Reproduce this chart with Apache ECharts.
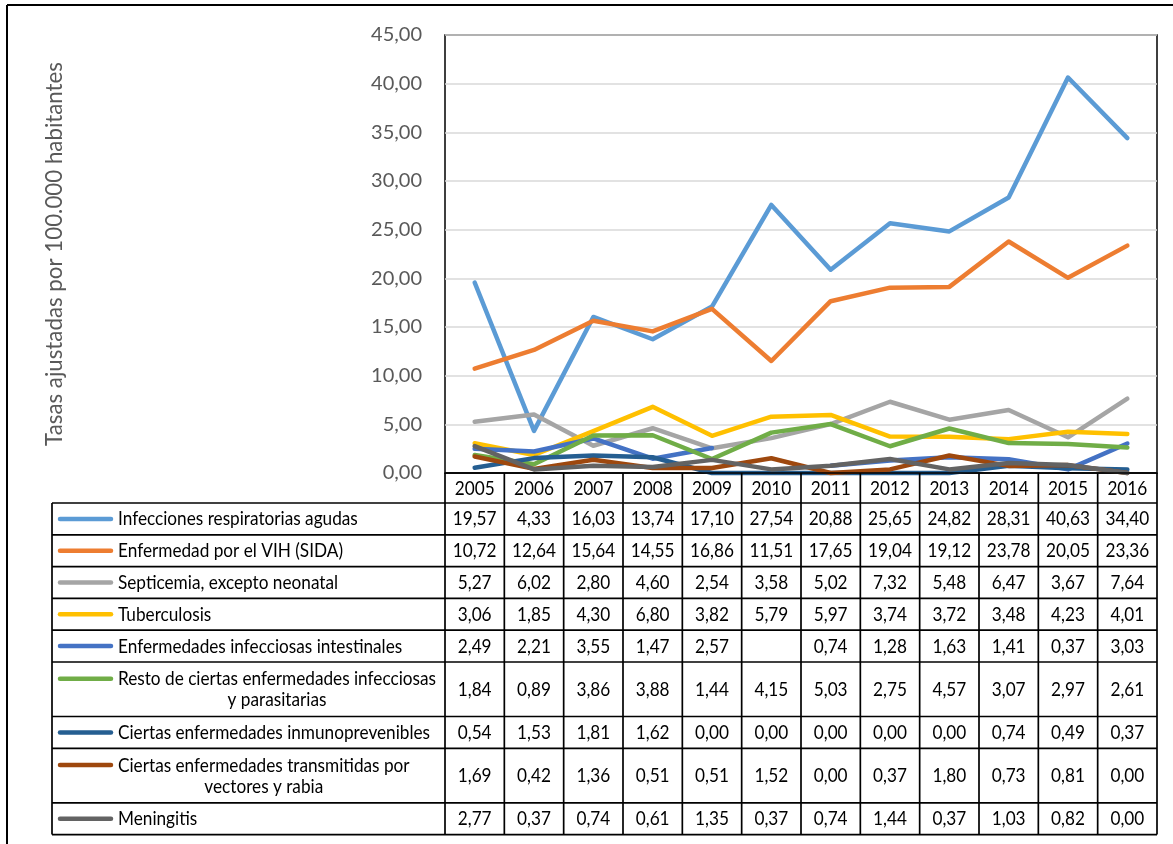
<!DOCTYPE html>
<html>
<head>
<meta charset="utf-8">
<title>Tasas ajustadas de mortalidad por enfermedades transmisibles</title>
<script src="https://cdn.jsdelivr.net/npm/echarts@6/dist/echarts.min.js"></script>
<style>
  html, body { margin: 0; padding: 0; background: #ffffff; }
  #chart { width: 1173px; height: 844px; }
</style>
</head>
<body>
<div id="chart"></div>
<script>
// ---- data ----
const years = ['2005', '2006', '2007', '2008', '2009', '2010', '2011', '2012', '2013', '2014', '2015', '2016'];

const respiratorias   = [19.57, 4.33, 16.03, 13.74, 17.10, 27.54, 20.88, 25.65, 24.82, 28.31, 40.63, 34.40];
const vih             = [10.72, 12.64, 15.64, 14.55, 16.86, 11.51, 17.65, 19.04, 19.12, 23.78, 20.05, 23.36];
const septicemia      = [5.27, 6.02, 2.80, 4.60, 2.54, 3.58, 5.02, 7.32, 5.48, 6.47, 3.67, 7.64];
const tuberculosis    = [3.06, 1.85, 4.30, 6.80, 3.82, 5.79, 5.97, 3.74, 3.72, 3.48, 4.23, 4.01];
const intestinales    = [2.49, 2.21, 3.55, 1.47, 2.57, null, 0.74, 1.28, 1.63, 1.41, 0.37, 3.03];
const restoInfecc     = [1.84, 0.89, 3.86, 3.88, 1.44, 4.15, 5.03, 2.75, 4.57, 3.07, 2.97, 2.61];
const inmunoprev      = [0.54, 1.53, 1.81, 1.62, 0.00, 0.00, 0.00, 0.00, 0.00, 0.74, 0.49, 0.37];
const vectores        = [1.69, 0.42, 1.36, 0.51, 0.51, 1.52, 0.00, 0.37, 1.80, 0.73, 0.81, 0.00];
const meningitis      = [2.77, 0.37, 0.74, 0.61, 1.35, 0.37, 0.74, 1.44, 0.37, 1.03, 0.82, 0.00];

const seriesNames = [
  'Infecciones respiratorias agudas',
  'Enfermedad por el VIH (SIDA)',
  'Septicemia, excepto neonatal',
  'Tuberculosis',
  'Enfermedades infecciosas intestinales',
  'Resto de ciertas enfermedades infecciosas\ny parasitarias',
  'Ciertas enfermedades inmunoprevenibles',
  'Ciertas enfermedades transmitidas por\nvectores y rabia',
  'Meningitis'
];
const seriesValues = [respiratorias, vih, septicemia, tuberculosis, intestinales,
                      restoInfecc, inmunoprev, vectores, meningitis];

const yTicks = { min: 0, max: 45, step: 5 };
const yAxisTitle = 'Tasas ajustadas por 100.000 habitantes';

// ---- look ----
const palette = ['#5B9BD5', '#ED7D31', '#A5A5A5', '#FFC000', '#4472C4',
                 '#70AD47', '#255E91', '#9E480E', '#636363'];
const TABLE_FONT_FAMILY = 'Lato, sans-serif';
const TABLE_FONT_SIZE = 20;
const TABLE_FONT = TABLE_FONT_SIZE + 'px ' + TABLE_FONT_FAMILY;
const TABLE_SCALE_X = 0.86;           // condensed look for the table text
const AXIS_FONT_FAMILY = 'Lato, sans-serif';

// plot area
const GRID = { left: 445, top: 35, right: 16, bottom: 371 };
const W = 1173, H = 844;
const plotBottom = H - GRID.bottom;

// table layout
const TABLE_LEFT = 52;
const KEY_X1 = 58, KEY_X2 = 113, LABEL_X = 118;
const HEADER_BOTTOM = 503;
const ROW_SINGLE = 31.8, ROW_DOUBLE = 54.5;
const LINE_GAP = 21;

const fmt = v => (v == null ? '' : v.toFixed(2).replace('.', ','));

const chart = echarts.init(document.getElementById('chart'), null, { renderer: 'canvas' });

chart.setOption({
  animation: false,
  backgroundColor: '#ffffff',
  grid: {
    left: GRID.left, top: GRID.top, right: GRID.right, bottom: GRID.bottom,
    show: true, borderColor: '#000000', borderWidth: 1.5, backgroundColor: 'transparent'
  },
  xAxis: {
    type: 'category',
    data: years,
    boundaryGap: true,
    axisLine: { show: true, lineStyle: { color: '#000000', width: 1.5 } },
    axisTick: { show: false },
    axisLabel: { show: false },   // years are written in the table header below
    splitLine: { show: false }
  },
  yAxis: {
    type: 'value',
    min: yTicks.min, max: yTicks.max, interval: yTicks.step,
    name: yAxisTitle,
    nameLocation: 'middle',
    nameGap: 379,
    nameTextStyle: { color: '#595959', fontFamily: AXIS_FONT_FAMILY, fontSize: 22.3 },
    axisLine: { show: false },
    axisTick: { show: false },
    axisLabel: {
      color: '#595959', fontFamily: AXIS_FONT_FAMILY, fontSize: 20, margin: 23,
      formatter: v => fmt(v)
    },
    splitLine: { show: true, lineStyle: { color: '#D9D9D9', width: 1.5 } }
  },
  series: seriesNames.map((name, i) => ({
    name: name,
    type: 'line',
    data: seriesValues[i],
    symbol: 'none',
    connectNulls: false,
    clip: false,
    lineStyle: { color: palette[i], width: 4.5, cap: 'round', join: 'round' },
    itemStyle: { color: palette[i] }
  }))
});

// ---- data table under the plot ----
function buildTable() {
  const colX = i => chart.convertToPixel({ xAxisIndex: 0 }, i);
  const band = colX(1) - colX(0);
  const colLeft = colX(0) - band / 2;
  const colRight = colX(years.length - 1) + band / 2;

  const measure = document.createElement('canvas').getContext('2d');
  measure.font = TABLE_FONT;

  const els = [];
  const stroke = { stroke: '#000000', lineWidth: 1.7 };
  const hLine = (x1, x2, y) => els.push({ type: 'line', silent: true, z: 10,
    shape: { x1: x1, y1: y, x2: x2, y2: y }, style: stroke });
  const vLine = (x, y1, y2) => els.push({ type: 'line', silent: true, z: 10,
    shape: { x1: x, y1: y1, x2: x, y2: y2 }, style: stroke });
  const text = (str, x, y, align) => els.push({ type: 'text', silent: true, z: 11,
    x: x, y: y, scaleX: TABLE_SCALE_X,
    style: { text: str, x: 0, y: 0, font: TABLE_FONT, fill: '#000000',
             textAlign: align, textVerticalAlign: 'middle', align: align, verticalAlign: 'middle' } });

  // row boundaries
  const rowTops = [HEADER_BOTTOM];
  seriesNames.forEach(n => {
    const h = n.indexOf('\n') >= 0 ? ROW_DOUBLE : ROW_SINGLE;
    rowTops.push(rowTops[rowTops.length - 1] + h);
  });
  const tableBottom = rowTops[rowTops.length - 1];

  // ruling
  hLine(colLeft, colRight, plotBottom);
  rowTops.forEach(y => hLine(TABLE_LEFT, colRight, y));
  vLine(TABLE_LEFT, HEADER_BOTTOM, tableBottom);
  for (let k = 0; k <= years.length; k++) {
    vLine(colLeft + k * band, plotBottom, tableBottom);
  }

  // header: category names of the x axis
  years.forEach((y, j) => text(y, colX(j), (plotBottom + HEADER_BOTTOM) / 2 + 1, 'center'));

  // rows: legend key, label, values
  seriesNames.forEach((name, i) => {
    const yc = (rowTops[i] + rowTops[i + 1]) / 2;
    const lines = name.split('\n');
    const yFirst = lines.length > 1 ? yc - LINE_GAP / 2 : yc;
    els.push({ type: 'line', silent: true, z: 11,
      shape: { x1: KEY_X1 + 2, y1: yFirst, x2: KEY_X2 - 2, y2: yFirst },
      style: { stroke: palette[i], lineWidth: 4.5, lineCap: 'round' } });
    if (lines.length === 1) {
      text(name, LABEL_X, yc, 'left');
    } else {
      const w = measure.measureText(lines[0]).width * TABLE_SCALE_X;
      text(lines[0], LABEL_X, yFirst, 'left');
      text(lines[1], LABEL_X + w / 2, yFirst + LINE_GAP, 'center');
    }
    seriesValues[i].forEach((v, j) => text(fmt(v), colX(j), yc, 'center'));
  });

  // outer frame of the figure
  els.push({ type: 'line', silent: true, z: 12,
    shape: { x1: 7, y1: 5, x2: 7, y2: H }, style: { stroke: '#000000', lineWidth: 2 } });
  els.push({ type: 'line', silent: true, z: 12,
    shape: { x1: 7, y1: 5, x2: W, y2: 5 }, style: { stroke: '#000000', lineWidth: 2 } });

  chart.setOption({ graphic: { elements: els } });
}
buildTable();
</script>
</body>
</html>
